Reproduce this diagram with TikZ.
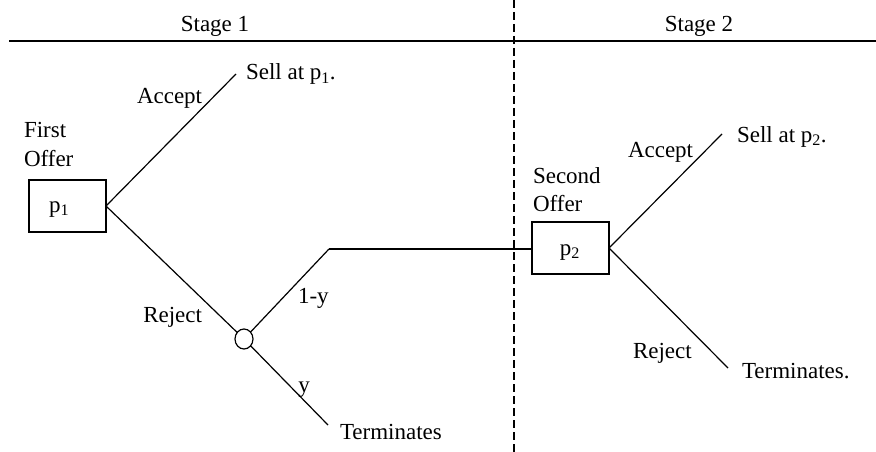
\documentclass[tikz,border=0pt]{standalone}
\usepackage{fontspec}
\setmainfont{Liberation Serif}
\usetikzlibrary{shapes.geometric}
\begin{document}
\begin{tikzpicture}[x=1pt,y=-1pt,
  every node/.style={inner sep=0pt,outer sep=0pt},
  txt/.style={font=\fontsize{23}{28}\selectfont},
  branch/.style={line width=1.2pt},
  offerbox/.style={draw,line width=1.2pt,minimum width=77pt,minimum height=52pt},
  chance/.style={draw,ellipse,line width=1.2pt,minimum width=18pt,minimum height=20pt}]
\useasboundingbox (0,0) rectangle (876,452);
% header
\node[txt,anchor=base] (st1) at (215,32) {Stage 1};
\node[txt,anchor=base] (st2) at (699,32) {Stage 2};
\coordinate (hl) at (9,41);
\coordinate (hr) at (876,41);
\draw[line width=1.4pt] (hl) -- (hr);
\coordinate (dt) at (514,0);
\coordinate (db) at (514,452);
\draw[line width=1.2pt,dash pattern=on 8pt off 4pt] (dt) -- (db);
% stage 1
\node[offerbox] (box1) at (67.5,206) {};
\node[txt,anchor=base west] (p1) at (49,212) {p\textsubscript{1}};
\node[txt,anchor=base west] (first) at (24,137) {First};
\node[txt,anchor=base west] (offer1) at (24,166) {Offer};
\coordinate (acc1) at (236,74);
\node[txt,anchor=base west] (sell1) at (246,80) {Sell at p\textsubscript{1}.};
\node[txt,anchor=base west] (acclab1) at (137,103) {Accept};
\node[chance] (c1) at (244,339) {};
\node[txt,anchor=base east] (rej1) at (202,322) {Reject};
\coordinate (bend) at (329,249);
\coordinate (yend) at (328,425);
\node[txt,anchor=base west] (oneminusy) at (298,303) {1-y};
\node[txt,anchor=base] (ylab) at (304,392) {y};
\node[txt,anchor=base west] (term1) at (340,439) {Terminates};
\draw[branch] (box1.east) -- (acc1);
\draw[branch] (box1.east) -- (c1);
\draw[branch] (c1) -- (bend);
\draw[branch] (c1) -- (yend);
% stage 2
\node[offerbox] (box2) at (570.5,248) {};
\node[txt,anchor=base] (p2) at (570,255) {p\textsubscript{2}};
\node[txt,anchor=base west] (second) at (533,183) {Second};
\node[txt,anchor=base west] (offer2) at (533,211) {Offer};
\coordinate (acc2) at (722,134);
\coordinate (rej2end) at (728,368);
\node[txt,anchor=base west] (sell2) at (737,142) {Sell at p\textsubscript{2}.};
\node[txt,anchor=base west] (acclab2) at (628,157) {Accept};
\node[txt,anchor=base west] (rej2) at (633,358) {Reject};
\node[txt,anchor=base west] (term2) at (742,378) {Terminates.};
\draw[branch] (bend) -- (bend -| box2.west);
\draw[branch] (box2.east) -- (acc2);
\draw[branch] (box2.east) -- (rej2end);
\end{tikzpicture}
\end{document}
